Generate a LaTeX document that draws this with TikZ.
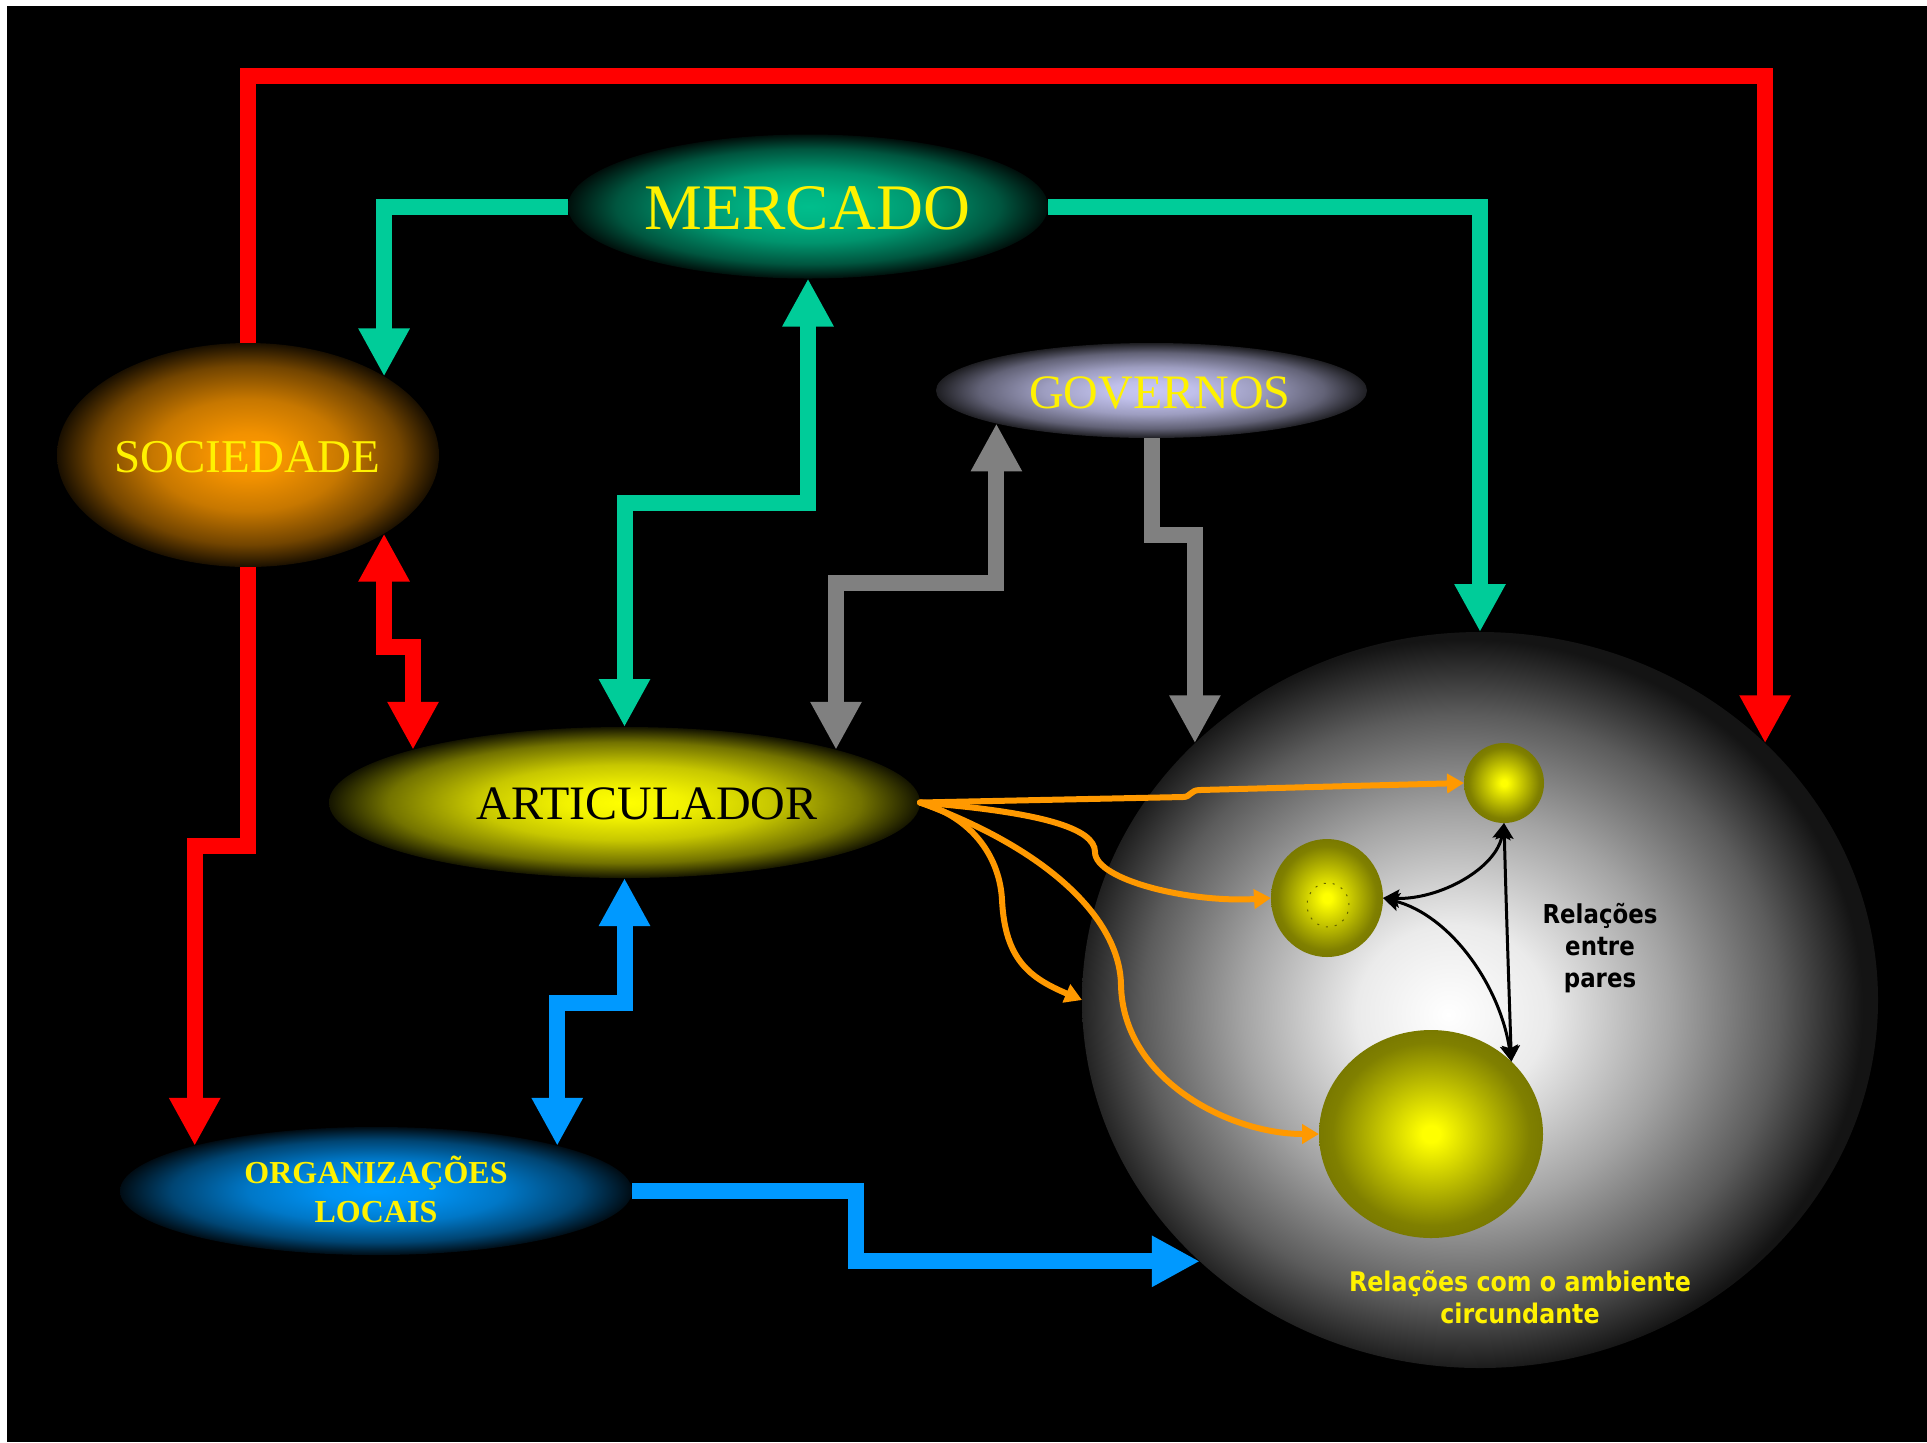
\documentclass[tikz,border=0pt]{standalone}
\usepackage{fontspec}
\setmainfont{Liberation Serif}
\newfontfamily\tahfont[FakeStretch=0.88]{DejaVu Sans}
\usetikzlibrary{shapes.geometric,arrows.meta,calc}
\definecolor{cgreen}{RGB}{0,204,153}
\definecolor{cmerc}{RGB}{0,190,140}
\definecolor{cblue}{RGB}{0,153,255}
\definecolor{corange}{RGB}{255,153,0}
\definecolor{cgray}{RGB}{128,128,128}
\definecolor{cred}{RGB}{255,0,0}
\definecolor{cgov}{RGB}{200,200,245}
\definecolor{cgovedge}{RGB}{30,30,34}
\definecolor{golive}{RGB}{128,128,0}
\pgfdeclareradialshading{shMerc}{\pgfpoint{0bp}{0bp}}{color(0bp)=(cmerc); color(5bp)=(cmerc!95!black); color(12.5bp)=(cmerc!78!black); color(20bp)=(cmerc!45!black); color(25bp)=(cmerc!8!black); color(50bp)=(black)}
\pgfdeclareradialshading{shSoc}{\pgfpoint{0bp}{0bp}}{color(0bp)=(corange); color(5bp)=(corange!95!black); color(12.5bp)=(corange!78!black); color(20bp)=(corange!45!black); color(25bp)=(corange!10!black); color(50bp)=(black)}
\pgfdeclareradialshading{shGov}{\pgfpoint{0bp}{0bp}}{color(0bp)=(cgov); color(5bp)=(cgov!95!cgovedge); color(12.5bp)=(cgov!75!cgovedge); color(20bp)=(cgov!40!cgovedge); color(25bp)=(cgovedge); color(50bp)=(cgovedge)}
\pgfdeclareradialshading{shArt}{\pgfpoint{0bp}{0bp}}{color(0bp)=(yellow); color(5bp)=(yellow!95!black); color(12.5bp)=(yellow!78!black); color(20bp)=(yellow!45!black); color(25bp)=(yellow!8!black); color(50bp)=(black)}
\pgfdeclareradialshading{shOrg}{\pgfpoint{0bp}{0bp}}{color(0bp)=(cblue); color(5bp)=(cblue!95!black); color(12.5bp)=(cblue!78!black); color(20bp)=(cblue!45!black); color(25bp)=(cblue!8!black); color(50bp)=(black)}
\pgfdeclareradialshading{shBall}{\pgfpoint{0bp}{0bp}}{color(0bp)=(yellow); color(2bp)=(yellow); color(12bp)=(yellow!50!golive); color(22bp)=(golive); color(25bp)=(golive!95!black); color(50bp)=(golive!95!black)}
\pgfdeclareradialshading{shBig}{\pgfpoint{-2bp}{-1bp}}{color(0bp)=(white); color(6bp)=(white!92!black); color(13.5bp)=(white!64!black); color(20bp)=(white!36!black); color(25bp)=(white!8!black); color(50bp)=(white!8!black)}
\begin{document}
\begin{tikzpicture}[x=0.5pt,y=-0.5pt,
  blob/.style={ellipse, draw=none, inner sep=0pt, outer sep=0pt},
  lbl/.style={inner sep=0pt, outer sep=0pt, align=center},
  fat/.style={line width=8pt, line join=miter, line cap=butt},
  fatone/.style={fat, -{Triangle[length=24pt,width=24pt]}},
  fattwo/.style={fat, {Triangle[length=24pt,width=24pt]}-{Triangle[length=24pt,width=24pt]}},
  oline/.style={draw=corange, line width=3pt, line cap=round, -{Triangle[length=8.5pt,width=9.5pt]}},
  bline/.style={draw=black, line width=1.5pt, {Stealth[length=8pt,width=9pt,inset=1.5pt]}-{Stealth[length=8pt,width=9pt,inset=1.5pt]}}
]
\useasboundingbox (0,0) rectangle (1927,1442);
\fill[white] (0,0) rectangle (1927,1442);
\fill[black] (7,6) rectangle (1927,1442);

% big environment sphere and inner spheres
\node[blob, minimum width=398pt, minimum height=368pt, shading=shBig] (big) at (1480,1000) {};
\node[blob, minimum width=40pt, minimum height=40pt, shading=shBall] (s1) at (1504,783) {};
\node[blob, minimum width=56pt, minimum height=59pt, shading=shBall] (s2) at (1327,898) {};
\node[ellipse, inner sep=0pt, minimum width=21pt, minimum height=22pt, draw=golive!80!black, line width=0.5pt, dash pattern=on 1pt off 3.5pt] (s2in) at (1328,905) {};
\node[blob, minimum width=112pt, minimum height=104pt, shading=shBall] (s3) at (1431,1134) {};

% main ellipses
\node[blob, minimum width=240pt, minimum height=72pt, shading=shMerc] (mer) at (808,206.5) {};
\node[blob, minimum width=191pt, minimum height=112pt, shading=shSoc] (soc) at (248,455) {};
\node[blob, minimum width=215.5pt, minimum height=47.5pt, shading=shGov] (gov) at (1151.5,390.5) {};
\node[blob, minimum width=295.5pt, minimum height=75.5pt, shading=shArt] (art) at (624.5,802.5) {};
\node[blob, minimum width=256pt, minimum height=64pt, shading=shOrg] (org) at (376,1191) {};

% step levels
\coordinate (yRtop) at (0,76);
\coordinate (yRl) at (0,846);
\coordinate (yRs) at (0,647);
\coordinate (yGm) at (0,503);
\coordinate (yGg) at (0,583);
\coordinate (yGs) at (0,535);
\coordinate (yBb) at (0,1003);
\coordinate (xBx) at (856,0);

% thick connectors
\draw[cred, fatone] (soc.north) -- (soc.north |- yRtop) -| (big.42);
\draw[cred, fatone] (soc.south) -- (soc.south |- yRl) -| (org.166);
\draw[cred, fattwo] (soc.330) -- (soc.330 |- yRs) -| (art.166);
\draw[cgreen, fatone] (mer.west) -| (soc.30);
\draw[cgreen, fatone] (mer.east) -| (big.north);
\draw[cgreen, fattwo] (art.north) -- (art.north |- yGm) -| (mer.south);
\draw[cgray, fattwo] (gov.192) -- (gov.192 |- yGg) -| (art.14);
\draw[cgray, fatone] (gov.south) -- (gov.south |- yGs) -| (big.138);
\draw[cblue, fattwo] (art.south) -- (art.south |- yBb) -| (org.14);
\draw[cblue, fatone] (org.east) -- (org.east -| xBx) |- (big.223);

% orange connectors
\draw[oline] (art.east) -- (1183,797) .. controls (1191,797) and (1190,790) .. (1200,790) -- (s1.west);
\draw[oline] (art.east) .. controls (1040,812) and (1095,828) .. (1095,852) .. controls (1095,880) and (1190,903) .. (s2.west);
\draw[oline] (art.east) .. controls (975,818) and (1000,860) .. (1002,900) .. controls (1005,960) and (1030,978) .. (big.west);
\draw[oline] (art.east) .. controls (1050,850) and (1120,920) .. (1121,985) .. controls (1123,1080) and (1230,1134) .. (s3.west);

% black relations
\draw[bline] (s1.south) .. controls (1497,868) and (1440,900) .. (s2.east);
\draw[bline] (s2.east) .. controls (1450,915) and (1500,985) .. (s3.42);
\draw[bline] (s1.south) .. controls (1506,900) and (1508,960) .. (s3.42);

% labels
\node[lbl, text=yellow, font=\fontsize{32.5pt}{39pt}\selectfont] (tmer) at (807.5,208.5) {MERCADO};
\node[lbl, text=yellow, font=\fontsize{23.5pt}{28pt}\selectfont] (tsoc) at (247.5,457.5) {SOCIEDADE};
\node[lbl, text=yellow, font=\fontsize{24pt}{29pt}\selectfont] (tgov) at (1160,393) {GOVERNOS};
\node[lbl, text=black, font=\fontsize{24pt}{29pt}\selectfont] (tart) at (647,804) {ARTICULADOR};
\node[lbl, text=yellow, font=\fontsize{16pt}{19.5pt}\selectfont\bfseries] (torg) at (376,1189) {ORGANIZAÇÕES\\LOCAIS};
\node[lbl, text=black, font=\tahfont\fontsize{13pt}{16pt}\selectfont\bfseries] (tpar) at (1600,948) {Relações\\entre\\pares};
\node[lbl, text=yellow, font=\tahfont\fontsize{13.5pt}{16pt}\selectfont\bfseries] (tamb) at (1520,1297) {Relações com o ambiente\\circundante};
\end{tikzpicture}
\end{document}
